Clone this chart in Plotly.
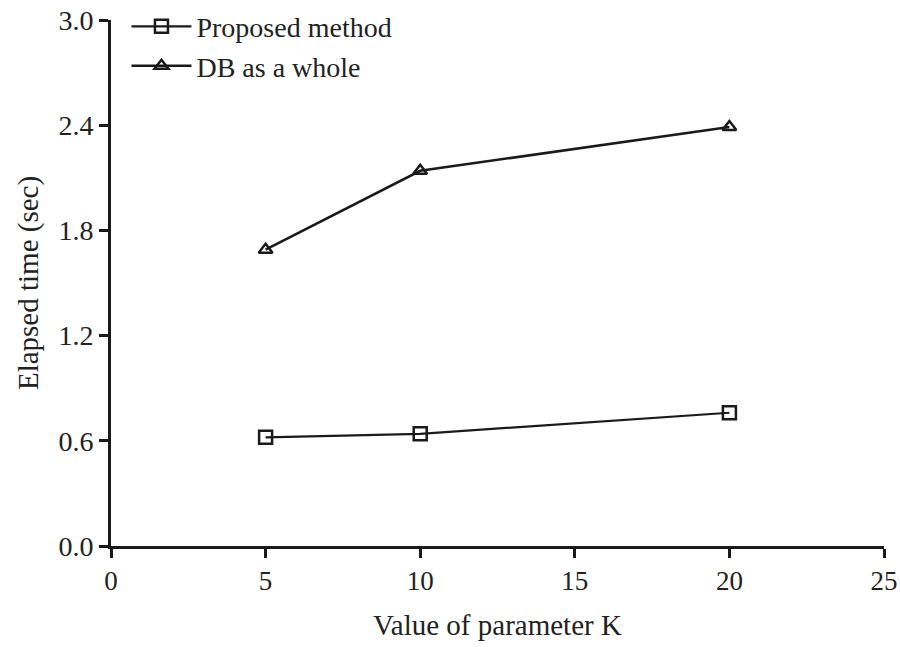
import plotly.graph_objects as go

# Elapsed time vs. parameter K
k_values = [5, 10, 20]
proposed_method = [0.62, 0.64, 0.76]
db_as_whole = [1.69, 2.14, 2.39]

x_ticks = [0, 5, 10, 15, 20, 25]
y_ticks = [0.0, 0.6, 1.2, 1.8, 2.4, 3.0]
y_tick_text = ["0.0", "0.6", "1.2", "1.8", "2.4", "3.0"]

serif = "Liberation Serif, serif"
ink = "#1a1a1a"
text_col = "#222"

fig = go.Figure()
fig.add_trace(go.Scatter(
    x=k_values, y=proposed_method, name="Proposed method",
    mode="lines+markers",
    line=dict(color=ink, width=2.2),
    marker=dict(symbol="square-open", size=13, color=ink, line=dict(width=2.5, color=ink)),
))
fig.add_trace(go.Scatter(
    x=k_values, y=db_as_whole, name="DB as a whole",
    mode="lines+markers",
    line=dict(color=ink, width=2.6),
    marker=dict(symbol="triangle-up-open", size=12, color=ink, line=dict(width=2.5, color=ink)),
))

fig.update_layout(
    width=900, height=647,
    margin=dict(l=111, r=16, t=20, b=101, autoexpand=False),
    paper_bgcolor="white", plot_bgcolor="white",
    font=dict(family=serif, size=28, color=text_col),
    showlegend=True,
    legend=dict(
        x=0.02, y=1.035, xanchor="left", yanchor="top",
        bgcolor="rgba(0,0,0,0)", borderwidth=0,
        font=dict(family=serif, size=28, color=text_col),
        itemwidth=60, tracegroupgap=0,
    ),
    xaxis=dict(
        range=[0, 25], tickvals=x_ticks, ticktext=[str(v) for v in x_ticks],
        showline=True, linecolor=ink, linewidth=3,
        ticks="outside", ticklen=9, tickwidth=2.5, tickcolor=ink,
        showgrid=False, zeroline=False, ticklabeloverflow="allow",
        tickfont=dict(family=serif, size=27, color=text_col),
        title=dict(text="Value of parameter K", standoff=20,
                   font=dict(family=serif, size=29, color=text_col)),
    ),
    yaxis=dict(
        range=[0, 3.0], tickvals=y_ticks, ticktext=y_tick_text,
        showline=True, linecolor=ink, linewidth=3,
        ticks="outside", ticklen=9, tickwidth=2.5, tickcolor=ink,
        showgrid=False, zeroline=False,
        tickfont=dict(family=serif, size=28, color=text_col),
        title=dict(text="Elapsed time (sec)", standoff=12,
                   font=dict(family=serif, size=29, color=text_col)),
    ),
)

fig.write_html("out.html")
